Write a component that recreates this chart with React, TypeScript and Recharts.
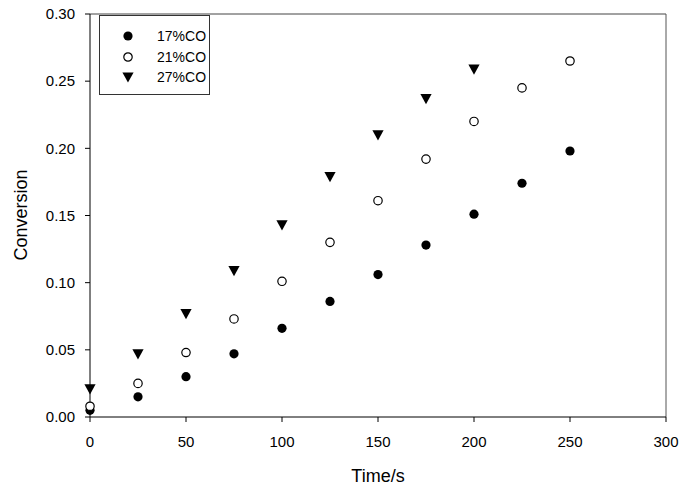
import React from 'react';
import { ScatterChart, Scatter, XAxis, YAxis, ReferenceLine, Legend } from 'recharts';

const times = [0, 25, 50, 75, 100, 125, 150, 175, 200, 225, 250];
const conv17 = [0.005, 0.015, 0.030, 0.047, 0.066, 0.086, 0.106, 0.128, 0.151, 0.174, 0.198];
const conv21 = [0.008, 0.025, 0.048, 0.073, 0.101, 0.130, 0.161, 0.192, 0.220, 0.245, 0.265];
const conv27 = [0.021, 0.047, 0.077, 0.109, 0.143, 0.179, 0.210, 0.237, 0.259];
const xTicks = [0, 50, 100, 150, 200, 250, 300];
const yTicks = [0, 0.05, 0.1, 0.15, 0.2, 0.25, 0.3];
const seriesNames = ['17%CO', '21%CO', '27%CO'];

const toPoints = (vals: number[]) => vals.map((v, i) => ({ x: times[i], y: v }));
const data17 = toPoints(conv17);
const data21 = toPoints(conv21);
const data27 = toPoints(conv27);

const FONT = '"Liberation Sans", Arial, sans-serif';

const FilledCircle = (p: any) => <circle cx={p.cx} cy={p.cy} r={4.6} fill="#000" />;
const OpenCircle = (p: any) => (
  <circle cx={p.cx} cy={p.cy} r={4.2} fill="#fff" stroke="#000" strokeWidth={1.2} />
);
const DownTriangle = (p: any) => (
  <polygon
    points={`${p.cx - 5.6},${p.cy - 4.6} ${p.cx + 5.6},${p.cy - 4.6} ${p.cx},${p.cy + 5.6}`}
    fill="#000"
  />
);

const iconFor = (i: number) => {
  const cx = 7, cy = 7;
  if (i === 0) return <FilledCircle cx={cx} cy={cy} />;
  if (i === 1) return <OpenCircle cx={cx} cy={cy} />;
  return <DownTriangle cx={cx} cy={cy} />;
};

const LegendBox = () => (
  <div
    style={{
      width: 111,
      height: 80,
      boxSizing: 'border-box',
      border: '1px solid #333',
      background: '#fff',
      paddingTop: 10,
      fontFamily: FONT,
      color: '#000',
    }}
  >
    {seriesNames.map((n, i) => (
      <div key={n} style={{ height: 20.5, display: 'flex', alignItems: 'center', position: 'relative' }}>
        <svg width={14} height={14} style={{ position: 'absolute', left: 21 }}>
          {iconFor(i)}
        </svg>
        <span style={{ position: 'absolute', left: 57, fontSize: 14, fontFamily: FONT, lineHeight: '16px' }}>{n}</span>
      </div>
    ))}
  </div>
);

export default function App() {
  return (
    <div style={{ position: 'absolute', left: 0, top: 0, width: 681, height: 491, background: '#fff' }}>
      <ScatterChart width={681} height={491} margin={{ top: 14, right: 15, bottom: 0, left: 0 }}>
        <XAxis
          type="number"
          dataKey="x"
          domain={[0, 300]}
          ticks={xTicks}
          height={74}
          stroke="#000"
          tickSize={5}
          tickMargin={14}
          tick={{ fill: '#000', fontSize: 15, fontFamily: FONT }}
          label={{
            content: () => (
              <text x={378} y={482} textAnchor="middle" fontSize={18} fontFamily={FONT} fill="#000">
                Time/s
              </text>
            ),
          }}
        />
        <YAxis
          type="number"
          dataKey="y"
          domain={[0, 0.3]}
          ticks={yTicks}
          width={90}
          stroke="#000"
          tickSize={5}
          tickMargin={10}
          tickFormatter={(v: number) => v.toFixed(2)}
          tick={{ fill: '#000', fontSize: 15, fontFamily: FONT }}
          label={{
            content: () => (
              <text
                x={27}
                y={215}
                transform="rotate(-90, 27, 215)"
                textAnchor="middle"
                fontSize={18}
                fontFamily={FONT}
                fill="#000"
              >
                Conversion
              </text>
            ),
          }}
        />
        <ReferenceLine y={0.3} stroke="#444" strokeWidth={1} />
        <ReferenceLine x={300} stroke="#555" strokeWidth={1} />
        <Legend
          layout="vertical"
          align="center"
          verticalAlign="middle"
          wrapperStyle={{ left: 99, top: 15, width: 111, height: 80 }}
          content={() => <LegendBox />}
        />
        <Scatter name={seriesNames[0]} data={data17} shape={FilledCircle} isAnimationActive={false} />
        <Scatter name={seriesNames[1]} data={data21} shape={OpenCircle} isAnimationActive={false} />
        <Scatter name={seriesNames[2]} data={data27} shape={DownTriangle} isAnimationActive={false} />
      </ScatterChart>
    </div>
  );
}
